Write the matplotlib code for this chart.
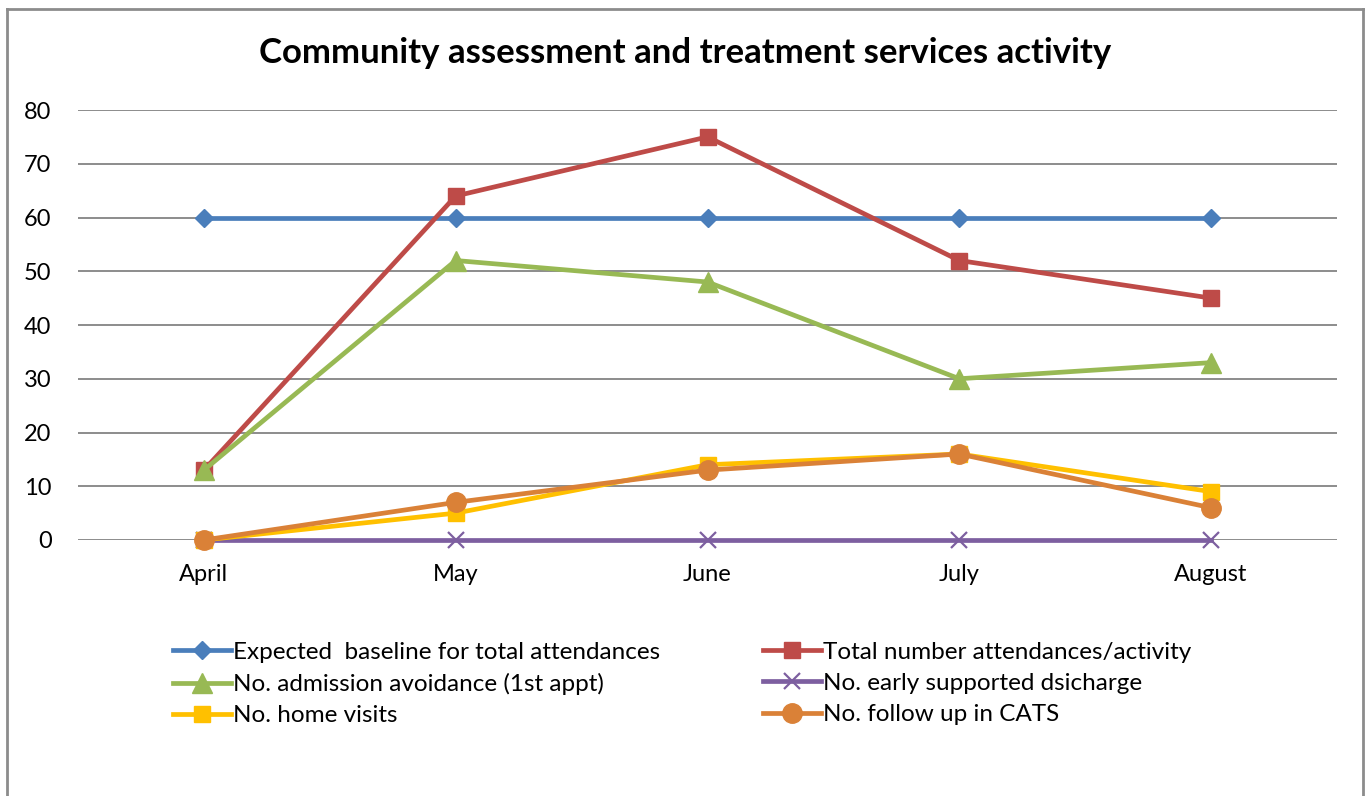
import matplotlib
matplotlib.use("Agg")
import matplotlib.pyplot as plt
from matplotlib.lines import Line2D

plt.rcParams['font.family'] = ['Lato', 'DejaVu Sans']

months = ["April", "May", "June", "July", "August"]
expected = [60, 60, 60, 60, 60]
total = [13, 64, 75, 52, 45]
admission = [13, 52, 48, 30, 33]
early = [0, 0, 0, 0, 0]
home = [0, 5, 14, 16, 9]
follow = [0, 7, 13, 16, 6]

labels = ["Expected  baseline for total attendances",
          "Total number attendances/activity",
          "No. admission avoidance (1st appt)",
          "No. early supported dsicharge",
          "No. home visits",
          "No. follow up in CATS"]

W, H = 1367, 796
fig = plt.figure(figsize=(W / 100, H / 100), dpi=100)
ax = fig.add_axes([78 / W, 1 - 540 / H, (1337 - 78) / W, (540 - 110) / H])

x = range(len(months))
kw = dict(lw=3.4, clip_on=False)
ax.plot(x, expected, color="#4A7EBB", marker="D", ms=9, label=labels[0], **kw)
ax.plot(x, total, color="#BE4B48", marker="s", ms=12, label=labels[1], **kw)
ax.plot(x, admission, color="#98B954", marker="^", ms=14, label=labels[2], **kw)
ax.plot(x, early, color="#7D5FA0", marker="x", ms=12, mew=1.6, label=labels[3], **kw)
ax.plot(x, home, color="#FFC000", marker="s", ms=12, label=labels[4], **kw)
ax.plot(x, follow, color="#DA8137", marker="o", ms=14, label=labels[5], **kw)

ax.set_xlim(-0.5, 4.5)
ax.set_ylim(0, 80)
ax.set_yticks(range(0, 81, 10))
ax.set_xticks(list(x))
ax.set_xticklabels(months)
ax.tick_params(length=0, labelsize=17, pad=19)
ax.tick_params(axis='x', pad=17)
ax.grid(axis='y', color="#8C8C8C", lw=1.4)
ax.set_axisbelow(True)
for s in ax.spines.values():
    s.set_visible(False)

fig.text(685 / W, 1 - 53 / H, "Community assessment and treatment services activity",
         ha="center", va="center", fontsize=25, fontweight="bold")

# legend fills row by row: reorder for matplotlib's column-first layout
handles, labs = ax.get_legend_handles_labels()
order = [0, 2, 4, 1, 3, 5]
leg = fig.legend([handles[i] for i in order], [labs[i] for i in order],
                 loc="upper left", bbox_to_anchor=(163 / W, 1 - 632 / H), ncol=2,
                 frameon=False, fontsize=17.5, handlelength=2.4, handletextpad=0.1,
                 columnspacing=4.2, labelspacing=0.42, borderaxespad=0)

# chart border
bc = "#8C8C8C"
fig.add_artist(Line2D([7 / W, 7 / W], [0, 1 - 9 / H], color=bc, lw=2))
fig.add_artist(Line2D([7 / W, 1363 / W], [1 - 9 / H, 1 - 9 / H], color=bc, lw=2))
fig.add_artist(Line2D([1363 / W, 1363 / W], [0, 1 - 9 / H], color=bc, lw=2))

fig.savefig("out.png", dpi=100)
